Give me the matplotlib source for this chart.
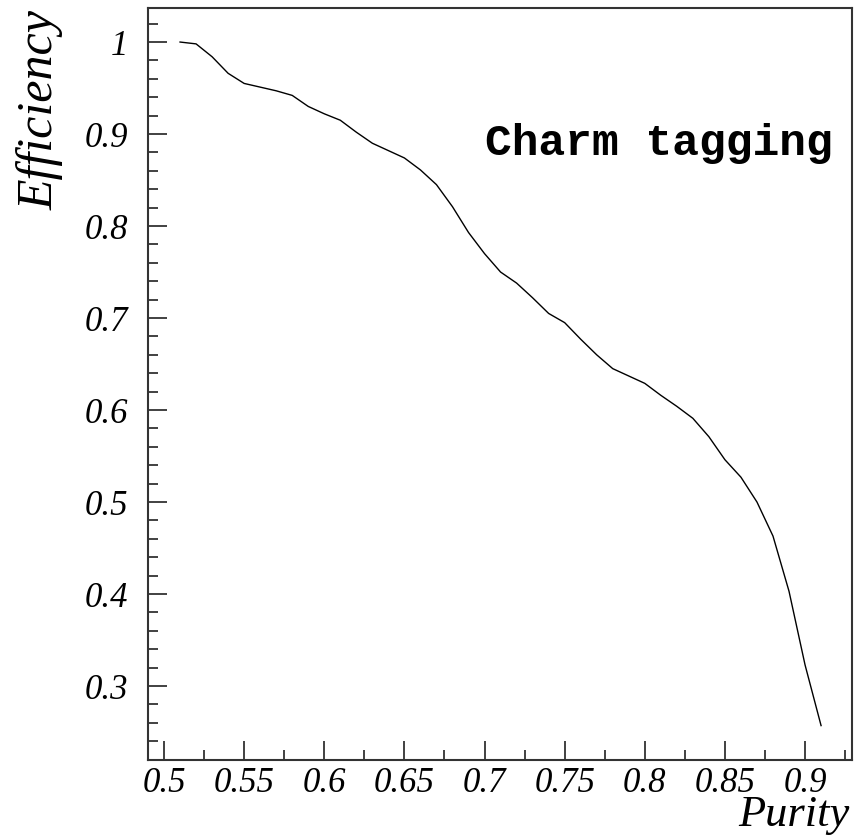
import matplotlib
matplotlib.use("Agg")
import matplotlib.pyplot as plt
from matplotlib.ticker import MultipleLocator, FixedLocator

purity = [0.51, 0.52, 0.53, 0.54, 0.55, 0.56, 0.57, 0.58, 0.59, 0.60,
          0.61, 0.62, 0.63, 0.64, 0.65, 0.66, 0.67, 0.68, 0.69, 0.70,
          0.71, 0.72, 0.73, 0.74, 0.75, 0.76, 0.77, 0.78, 0.79, 0.80,
          0.81, 0.82, 0.83, 0.84, 0.85, 0.86, 0.87, 0.88, 0.89, 0.90, 0.91]
efficiency = [1.000, 0.998, 0.984, 0.966, 0.955, 0.951, 0.947, 0.942, 0.930, 0.922,
              0.915, 0.902, 0.890, 0.882, 0.874, 0.861, 0.845, 0.821, 0.793, 0.770,
              0.750, 0.738, 0.722, 0.705, 0.695, 0.677, 0.660, 0.645, 0.637, 0.629,
              0.616, 0.604, 0.591, 0.571, 0.546, 0.527, 0.500, 0.463, 0.403, 0.323, 0.257]

x_ticks = [0.5, 0.55, 0.6, 0.65, 0.7, 0.75, 0.8, 0.85, 0.9]
x_ticklabels = ["0.5", "0.55", "0.6", "0.65", "0.7", "0.75", "0.8", "0.85", "0.9"]
y_ticks = [0.3, 0.4, 0.5, 0.6, 0.7, 0.8, 0.9, 1.0]
y_ticklabels = ["0.3", "0.4", "0.5", "0.6", "0.7", "0.8", "0.9", "1"]

serif = ["Liberation Serif", "DejaVu Serif"]

fig = plt.figure(figsize=(8.59, 8.38), dpi=100)
ax = fig.add_axes([148/859, 1 - 760/838, (852-148)/859, (760-8)/838])

ax.plot(purity, efficiency, color="black", lw=1.0)

ax.set_xlim(0.49, 0.9293)
ax.set_ylim(0.2196, 1.037)

ax.xaxis.set_major_locator(FixedLocator(x_ticks))
ax.xaxis.set_minor_locator(MultipleLocator(0.025))
ax.yaxis.set_major_locator(FixedLocator(y_ticks))
ax.yaxis.set_minor_locator(MultipleLocator(0.02))
ax.set_xticklabels(x_ticklabels, family=serif, style="italic", fontsize=25)
ax.set_yticklabels(y_ticklabels, family=serif, style="italic", fontsize=25)

ax.tick_params(which="both", direction="in", top=False, right=False, color="#333333", width=1.3)
ax.tick_params(which="major", length=14)
ax.tick_params(which="minor", length=7)
ax.tick_params(axis="x", pad=5)
ax.tick_params(axis="y", pad=14)

for s in ax.spines.values():
    s.set_linewidth(1.5)
    s.set_color("#333333")

fig.text(849/859, 1 - 826/838, "Purity", family=serif, style="italic", fontsize=32,
         ha="right", va="baseline")
fig.text(40/859, 1 - 110/838, "Efficiency", family=serif, style="italic", fontsize=36,
         ha="center", va="center", rotation=90)

fig.text(833/859, 1 - 143/838, "Charm tagging", family=["Liberation Mono", "DejaVu Sans Mono"],
         weight="bold", fontsize=32, ha="right", va="center")

fig.savefig("out.png", dpi=100, facecolor="white")
